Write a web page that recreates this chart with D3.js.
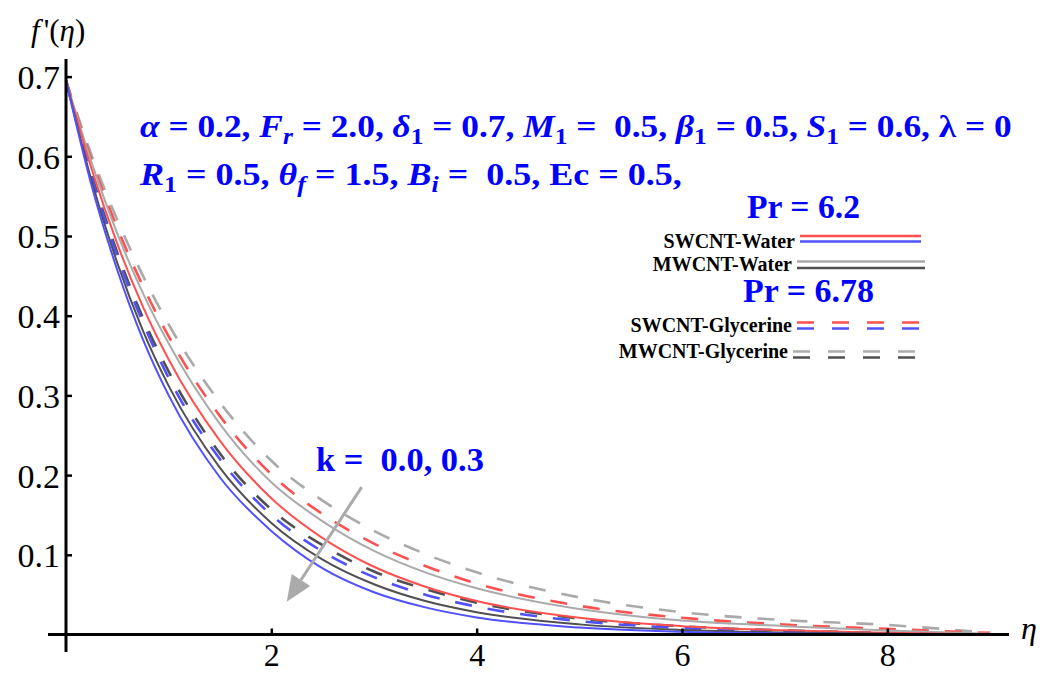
<!DOCTYPE html>
<html>
<head>
<meta charset="utf-8">
<script src="https://cdn.jsdelivr.net/npm/d3@7"></script>
<style>
  body { margin: 0; background: #fff; }
  text { font-family: "Liberation Serif", "DejaVu Serif", serif; white-space: pre; }
</style>
</head>
<body>
<div id="chart"></div>
<script>
// eta grid the curves were read at
var eta = [0, 0.25, 0.5, 0.75, 1, 1.5, 2, 2.5, 3, 3.5, 4, 5, 6, 7, 8, 9];

// Pr = 6.2 (water), solid
var swWaterK00 = [0.695, 0.584, 0.490, 0.411, 0.345, 0.243, 0.171, 0.121, 0.085, 0.060, 0.042, 0.021, 0.0105, 0.0052, 0.0022, 0];
var swWaterK03 = [0.695, 0.563, 0.457, 0.370, 0.300, 0.197, 0.130, 0.083, 0.053, 0.034, 0.0214, 0.0087, 0.0035, 0.0014, 0.0005, 0];
var mwWaterK00 = [0.695, 0.592, 0.503, 0.428, 0.365, 0.264, 0.191, 0.142, 0.105, 0.078, 0.058, 0.032, 0.0175, 0.0105, 0.005, 0.001];
var mwWaterK03 = [0.695, 0.569, 0.466, 0.381, 0.312, 0.209, 0.140, 0.094, 0.063, 0.042, 0.028, 0.0127, 0.0057, 0.0025, 0.001, 0];
// Pr = 6.78 (glycerine), dashed
var swGlyK00 = [0.695, 0.595, 0.510, 0.437, 0.374, 0.274, 0.201, 0.151, 0.114, 0.086, 0.064, 0.036, 0.021, 0.0125, 0.007, 0.002];
var swGlyK03 = [0.695, 0.574, 0.474, 0.391, 0.322, 0.220, 0.150, 0.104, 0.072, 0.050, 0.035, 0.0168, 0.0081, 0.0038, 0.0015, 0];
var mwGlyK00 = [0.695, 0.601, 0.520, 0.450, 0.389, 0.291, 0.218, 0.168, 0.130, 0.101, 0.078, 0.0465, 0.028, 0.018, 0.012, 0.002];
var mwGlyK03 = [0.695, 0.577, 0.479, 0.397, 0.330, 0.227, 0.157, 0.112, 0.079, 0.057, 0.040, 0.020, 0.0103, 0.005, 0.002, 0];

var xTicks = [2, 4, 6, 8];
var yTicks = [0.1, 0.2, 0.3, 0.4, 0.5, 0.6, 0.7];

var red = "#ff5050", blue = "#5050ff", lgray = "#aaaaaa", dgray = "#505050";

var series = [
  {v: mwGlyK00, c: lgray, dash: true},
  {v: swGlyK00, c: red, dash: true},
  {v: mwGlyK03, c: dgray, dash: true},
  {v: swGlyK03, c: blue, dash: true},
  {v: mwWaterK00, c: lgray, dash: false},
  {v: swWaterK00, c: red, dash: false},
  {v: mwWaterK03, c: dgray, dash: false},
  {v: swWaterK03, c: blue, dash: false}
];

var w = 1055, h = 675;
var svg = d3.select("#chart").append("svg").attr("width", w).attr("height", h);

var x = d3.scaleLinear().domain([0, 9]).range([66, 990]);
var y = d3.scaleLinear().domain([0, 0.7]).range([634.5, 76.6]);

// curves
var line = d3.line().x(function(d, i) { return x(eta[i]); }).y(function(d) { return y(d); }).curve(d3.curveMonotoneX);
svg.selectAll("path.curve").data(series).enter().append("path")
  .attr("class", "curve")
  .attr("d", function(d) { return line(d.v); })
  .attr("fill", "none")
  .attr("stroke", function(d) { return d.c; })
  .attr("stroke-width", function(d) { return d.dash ? 2.6 : 2; })
  .attr("stroke-dasharray", function(d) { return d.dash ? "17,16" : null; });

// axes
var gy = svg.append("g").attr("transform", "translate(" + x(0) + ",0)");
gy.call(d3.axisLeft(y).tickValues(d3.range(0.02, 0.71, 0.02)).tickSize(-3).tickFormat(""));
gy.call(d3.axisLeft(y).tickValues(yTicks).tickSize(-6).tickPadding(6).tickFormat(d3.format(".1f")));
var gx = svg.append("g").attr("transform", "translate(0," + y(0) + ")");
gx.call(d3.axisBottom(x).tickValues(d3.range(0.5, 9.1, 0.5)).tickSize(-3).tickFormat(""));
gx.call(d3.axisBottom(x).tickValues(xTicks).tickSize(-6).tickPadding(9).tickFormat(d3.format("d")));
svg.selectAll(".domain").remove();
svg.selectAll(".tick line").attr("stroke", "#000").attr("stroke-width", 2.5);
svg.selectAll(".tick text").attr("font-size", 34).attr("fill", "#000").style("font-family", "Liberation Serif");
gx.selectAll(".tick text").attr("font-size", 32);
gy.selectAll(".tick text").attr("dy", "0.35em");

svg.append("line").attr("x1", x(0)).attr("x2", x(0)).attr("y1", 59).attr("y2", 652)
  .attr("stroke", "#000").attr("stroke-width", 3);
svg.append("line").attr("x1", 48).attr("x2", 1009).attr("y1", y(0)).attr("y2", y(0))
  .attr("stroke", "#000").attr("stroke-width", 3);

// axis labels
var yl = svg.append("text").attr("x", 31).attr("y", 41).attr("font-size", 31);
yl.append("tspan").attr("font-style", "italic").text("f");
yl.append("tspan").attr("dx", 4).text("'(");
yl.append("tspan").attr("font-style", "italic").text("η");
yl.append("tspan").text(")");
svg.append("text").attr("x", 1021).attr("y", 639).attr("font-size", 32).attr("font-style", "italic").text("η");

// rich text helper: parts = [text, italic, sub]
function rich(parts, x0, base, size, width, color) {
  var t = svg.append("text").attr("x", 0).attr("y", 0).attr("font-size", size)
    .attr("font-weight", "bold").attr("fill", color);
  var down = false;
  parts.forEach(function(p) {
    var s = t.append("tspan").text(p[0]);
    if (p[1]) s.attr("font-style", "italic");
    if (p[2]) { s.attr("font-size", size * 0.72).attr("dy", down ? 0 : size * 0.22); down = true; }
    else if (down) { s.attr("dy", -size * 0.22); down = false; }
  });
  var bw = t.node().getBBox().width;
  t.attr("transform", "translate(" + x0 + "," + base + ") scale(" + (width / bw) + ",1)");
  return t;
}

rich([["α", 1], [" = 0.2, "], ["F", 1], ["r", 1, 1], [" = 2.0, "], ["δ", 1], ["1", 0, 1], [" = 0.7, "],
      ["M", 1], ["1", 0, 1], [" =  0.5, "], ["β", 1], ["1", 0, 1], [" = 0.5, "], ["S", 1], ["1", 0, 1],
      [" = 0.6, "], ["λ"], [" = 0"]], 140, 137, 32, 872, "#0000ff");
rich([["R", 1], ["1", 0, 1], [" = 0.5, "], ["θ", 1], ["f", 1, 1], [" = 1.5, "], ["B", 1], ["i", 1, 1],
      [" =  0.5, Ec = 0.5,"]], 140, 185, 32, 543, "#0000ff");
rich([["k =  0.0, 0.3"]], 316, 471, 33, 168, "#0000ff");
rich([["Pr = 6.2"]], 747, 218, 34, 113, "#0000ff");
rich([["Pr = 6.78"]], 743, 302, 34, 131, "#0000ff");

// legend
var legend = [
  {label: "SWCNT-Water", base: 248, x1: 800, x2: 921, c1: red, c2: blue, y1: 236, y2: 241.5, dash: false},
  {label: "MWCNT-Water", base: 270.5, x1: 797, x2: 925, c1: lgray, c2: dgray, y1: 261.5, y2: 268, dash: false},
  {label: "SWCNT-Glycerine", base: 331.5, x1: 797, x2: 920, c1: red, c2: blue, y1: 322.5, y2: 328.5, dash: true},
  {label: "MWCNT-Glycerine", base: 358, x1: 793, x2: 915, c1: lgray, c2: dgray, y1: 351.5, y2: 357.5, dash: true}
];
legend.forEach(function(l) {
  svg.append("text").attr("x", l.x1 - 5).attr("y", l.base).attr("text-anchor", "end")
    .attr("font-size", 20).attr("font-weight", "bold").attr("fill", "#000").text(l.label);
  [[l.c1, l.y1], [l.c2, l.y2]].forEach(function(p) {
    svg.append("line").attr("x1", l.x1).attr("x2", l.x2).attr("y1", p[1]).attr("y2", p[1])
      .attr("stroke", p[0]).attr("stroke-width", 2.5)
      .attr("stroke-dasharray", l.dash ? "17,18" : null);
  });
});

// arrow (k increasing)
var ax1 = x(2.88), ay1 = y(0.185), ax2 = x(2.15), ay2 = y(0.041);
var ang = Math.atan2(ay2 - ay1, ax2 - ax1);
var hl = 26, hw = 11;
var bx = ax2 - hl * Math.cos(ang), by = ay2 - hl * Math.sin(ang);
svg.append("line").attr("x1", ax1).attr("y1", ay1).attr("x2", bx).attr("y2", by)
  .attr("stroke", lgray).attr("stroke-width", 3);
svg.append("path")
  .attr("d", "M" + ax2 + "," + ay2 +
    "L" + (bx + hw * Math.sin(ang)) + "," + (by - hw * Math.cos(ang)) +
    "L" + (bx - hw * Math.sin(ang)) + "," + (by + hw * Math.cos(ang)) + "Z")
  .attr("fill", lgray);
</script>
</body>
</html>
